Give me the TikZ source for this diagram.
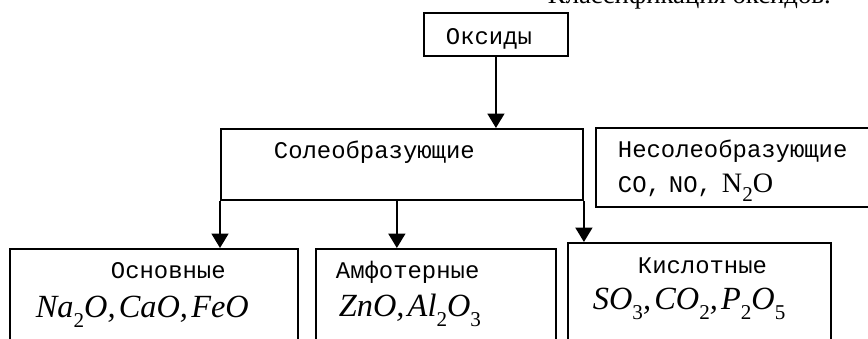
\documentclass[tikz,border=0pt]{standalone}
\usepackage{fontspec}
\setmainfont{Liberation Serif}
\setmonofont{Liberation Mono}
\usetikzlibrary{arrows.meta,positioning,calc}

\newcommand{\lowidx}[1]{\raisebox{-0.3em}{\upshape\fontsize{15}{15}\selectfont #1}}
\newcommand{\frm}{\rmfamily\itshape\fontsize{23}{24}\selectfont}
\newcommand{\nform}{\rmfamily\fontsize{20}{20}\selectfont}
\newcommand{\cm}{,\hspace{0.1em}}

\begin{document}
\begin{tikzpicture}[x=0.025cm, y=-0.025cm,
  box/.style={draw, line width=1.3pt, anchor=north west, inner ysep=0pt, align=left, font=\ttfamily\fontsize{17}{20}\selectfont},
  arr/.style={-{Triangle[width=0.42cm,length=0.36cm]}, line width=1.5pt}
]
\useasboundingbox (0,0) rectangle (868,338);
\clip (0,0) rectangle (868,338);

\node[anchor=base west, font=\rmfamily\fontsize{19}{20}\selectfont] (title) at (543,3) {Классификация оксидов.};

\node[box, inner xsep=0.55cm, text width=2.5cm, text height=0.8cm, text depth=0.275cm] (oks) at (423,12) {Оксиды};
\node[box, inner xsep=1.325cm, text width=6.4cm, text height=0.75cm, text depth=1.025cm] (soleo) at (220,128) {Солеобразующие};
\node[box, inner xsep=0.55cm, text width=7cm, text height=0.75cm, text depth=1.225cm] (nesol) at (595,127) {Несолеобразующие\\[4.9pt]CO, NO,\hspace{0.25cm}{\nform N\lowidx{2}O}};

\node[box, inner xsep=0.65cm, text width=5.9cm, text height=0.75cm, text depth=2.5cm] (osn) at (9,248) {\hspace*{1.875cm}Основные\\[7.7pt]{\frm Na\lowidx{2}O\cm CaO\cm FeO}};
\node[box, inner xsep=0.5cm, text width=5cm, text height=0.75cm, text depth=2.5cm] (amf) at (315,248) {Амфотерные\\[7pt]\hspace*{0.075cm}{\frm ZnO\cm Al\lowidx{2}O\lowidx{3}}};
\node[box, inner xsep=0.625cm, text width=5.325cm, text height=0.775cm, text depth=2.5cm] (kis) at (567,242) {\hspace*{1.125cm}Кислотные\\[5.6pt]{\frm SO\lowidx{3}\cm CO\lowidx{2}\cm P\lowidx{2}O\lowidx{5}}};

\coordinate (mid) at ($(soleo.south west)!0.486!(soleo.south east)$);

\draw[arr] (oks.south) -- (oks.south |- soleo.north);
\draw[arr] (soleo.south west) -- (soleo.south west |- osn.north);
\draw[arr] (mid) -- (mid |- amf.north);
\draw[arr] (soleo.south east) -- (soleo.south east |- kis.north);
\end{tikzpicture}
\end{document}
